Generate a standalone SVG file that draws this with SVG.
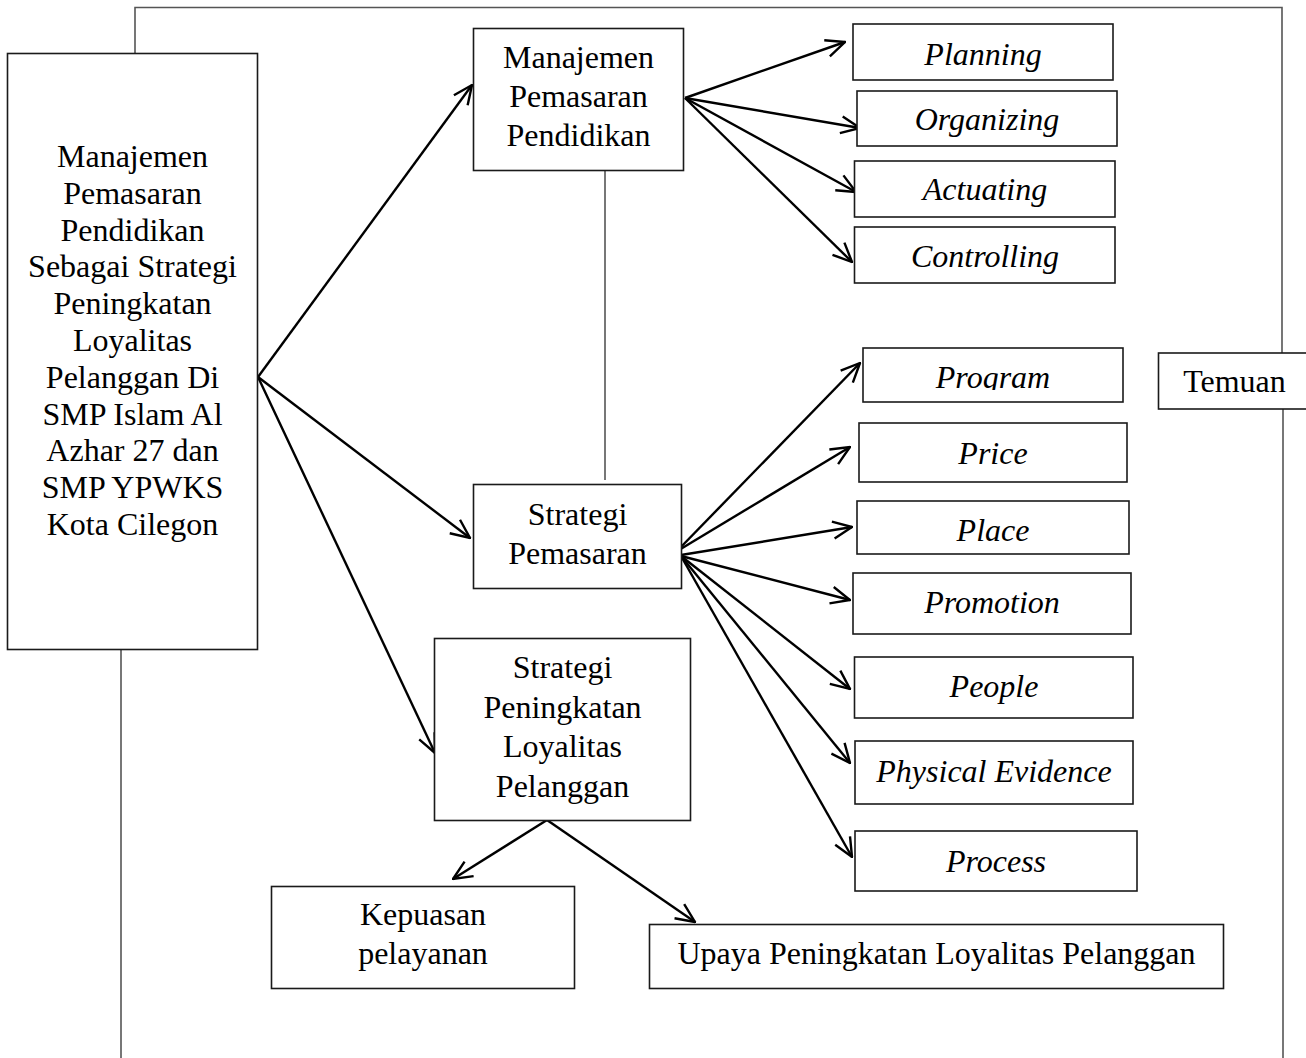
<svg xmlns="http://www.w3.org/2000/svg" width="1306" height="1058" viewBox="0 0 1306 1058">
<defs>
<style>
.box{fill:#fff;stroke:#1a1a1a;stroke-width:1.6}
.frame{fill:none;stroke:#555;stroke-width:1.6}
.arr{fill:none;stroke:#000;stroke-width:2.4;marker-end:url(#ah)}
text{font-family:"Liberation Serif","Times New Roman",serif;font-size:32px;fill:#000;text-anchor:middle}
.it{font-style:italic}
</style>
<marker id="ah" viewBox="0 0 22 20" refX="21" refY="10" markerWidth="22" markerHeight="20" markerUnits="userSpaceOnUse" orient="auto">
<path d="M2,1.5 L21,10 L2,18.5" fill="none" stroke="#000" stroke-width="2.4" stroke-linejoin="miter"/>
</marker>
<clipPath id="clipProg"><rect x="863" y="348" width="260" height="42"/></clipPath>
</defs>
<rect width="1306" height="1058" fill="#fff"/>

<g id="connectors">
<path class="frame" d="M135,68 V7.5 H1282 V353"/>
<path class="frame" d="M1283,409 V1058"/>
<path class="frame" d="M121,649 V1058"/>
<path class="frame" d="M605,170 V480"/>
<line class="arr" x1="258" y1="377" x2="472" y2="85"/>
<line class="arr" x1="258" y1="377" x2="470" y2="538"/>
<line class="arr" x1="258" y1="377" x2="435" y2="753"/>
<line class="arr" x1="685" y1="98" x2="845" y2="42"/>
<line class="arr" x1="685" y1="98" x2="860" y2="128"/>
<line class="arr" x1="685" y1="98" x2="856" y2="192"/>
<line class="arr" x1="685" y1="98" x2="852" y2="262"/>
<line class="arr" x1="679" y1="549" x2="860" y2="363"/>
<line class="arr" x1="679" y1="550" x2="850" y2="447"/>
<line class="arr" x1="681" y1="555" x2="852" y2="527"/>
<line class="arr" x1="681" y1="556" x2="850" y2="600"/>
<line class="arr" x1="681" y1="556" x2="850" y2="689"/>
<line class="arr" x1="681" y1="556" x2="850" y2="763"/>
<line class="arr" x1="681" y1="556" x2="852" y2="857"/>
<line class="arr" x1="547" y1="820" x2="453" y2="879"/>
<line class="arr" x1="547" y1="820" x2="695" y2="922"/>
</g>

<g id="n-main">
<rect class="box" x="7.5" y="53.5" width="250" height="596"/>
<text x="132.5" y="167">Manajemen</text>
<text x="132.5" y="204">Pemasaran</text>
<text x="132.5" y="241">Pendidikan</text>
<text x="132.5" y="277">Sebagai Strategi</text>
<text x="132.5" y="314">Peningkatan</text>
<text x="132.5" y="351">Loyalitas</text>
<text x="132.5" y="388">Pelanggan Di</text>
<text x="132.5" y="425">SMP Islam Al</text>
<text x="132.5" y="461">Azhar 27 dan</text>
<text x="132.5" y="498">SMP YPWKS</text>
<text x="132.5" y="535">Kota Cilegon</text>
</g>

<g id="n-mpp">
<rect class="box" x="473.5" y="28.5" width="210" height="142"/>
<text x="578.5" y="68">Manajemen</text>
<text x="578.5" y="107">Pemasaran</text>
<text x="578.5" y="146">Pendidikan</text>
</g>

<g id="n-sp">
<rect class="box" x="473.5" y="484.5" width="208" height="104"/>
<text x="577.5" y="525">Strategi</text>
<text x="577.5" y="564">Pemasaran</text>
</g>

<g id="n-spl">
<rect class="box" x="434.5" y="638.5" width="256" height="182"/>
<text x="562.5" y="678">Strategi</text>
<text x="562.5" y="718">Peningkatan</text>
<text x="562.5" y="757">Loyalitas</text>
<text x="562.5" y="797">Pelanggan</text>
</g>

<g id="n-kep">
<rect class="box" x="271.5" y="886.5" width="303" height="102"/>
<text x="423" y="925">Kepuasan</text>
<text x="423" y="964">pelayanan</text>
</g>

<g id="n-upaya">
<rect class="box" x="649.5" y="924.5" width="574" height="64"/>
<text x="936.5" y="964">Upaya Peningkatan Loyalitas Pelanggan</text>
</g>

<g id="n-plan">
<rect class="box" x="853" y="24" width="260" height="56"/>
<text class="it" x="983" y="65">Planning</text>
</g>
<g id="n-org">
<rect class="box" x="857" y="91" width="260" height="55"/>
<text class="it" x="987" y="130">Organizing</text>
</g>
<g id="n-act">
<rect class="box" x="854.5" y="161" width="260.5" height="56"/>
<text class="it" x="985" y="200">Actuating</text>
</g>
<g id="n-ctrl">
<rect class="box" x="854.5" y="227" width="260.5" height="56"/>
<text class="it" x="985" y="267">Controlling</text>
</g>

<g id="n-prog">
<rect class="box" x="863" y="348" width="260" height="54"/>
<text class="it" x="993" y="388" clip-path="url(#clipProg)">Program</text>
</g>
<g id="n-price">
<rect class="box" x="859" y="423" width="268" height="59"/>
<text class="it" x="993" y="464">Price</text>
</g>
<g id="n-place">
<rect class="box" x="857" y="501" width="272" height="53"/>
<text class="it" x="993" y="541">Place</text>
</g>
<g id="n-promo">
<rect class="box" x="853" y="573" width="278" height="61"/>
<text class="it" x="992" y="613">Promotion</text>
</g>
<g id="n-people">
<rect class="box" x="854.5" y="657" width="278.5" height="61"/>
<text class="it" x="994" y="697">People</text>
</g>
<g id="n-phys">
<rect class="box" x="855" y="741" width="278" height="63"/>
<text class="it" x="994" y="782">Physical Evidence</text>
</g>
<g id="n-proc">
<rect class="box" x="855" y="831" width="282" height="60"/>
<text class="it" x="996" y="872">Process</text>
</g>

<g id="n-temuan">
<rect class="box" x="1158.5" y="353" width="160" height="56"/>
<text x="1234.5" y="392">Temuan</text>
</g>
</svg>
